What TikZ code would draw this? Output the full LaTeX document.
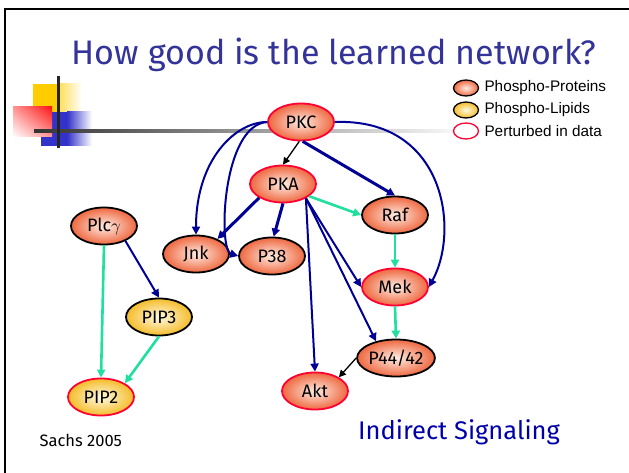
\documentclass[tikz,border=0pt]{standalone}
\usepackage{fontspec}
\setmainfont{Fira Sans}
\newfontfamily\legendfont{Liberation Sans}
\usetikzlibrary{shapes.geometric,arrows.meta,shadings}

\definecolor{titleblue}{RGB}{51,51,153}
\definecolor{netblue}{RGB}{0,0,150}
\definecolor{sigblue}{RGB}{0,0,170}
\definecolor{mint}{RGB}{32,224,160}
\definecolor{pertred}{RGB}{255,0,51}
\definecolor{protorange}{RGB}{238,104,64}
\definecolor{protlight}{RGB}{255,236,226}
\definecolor{lipidyellow}{RGB}{244,188,40}
\definecolor{lipidlight}{RGB}{255,250,228}
\definecolor{decoyellow}{RGB}{255,204,0}
\definecolor{decored}{RGB}{255,20,20}
\definecolor{decoblue}{RGB}{51,51,204}

\tikzset{
  protein/.style={ellipse, minimum width=66pt, minimum height=37pt, inner sep=0pt,
    inner color=protlight, outer color=protorange, draw=black, line width=1.8pt,
    font=\fontsize{18}{20}\selectfont},
  lipid/.style={protein, inner color=lipidlight, outer color=lipidyellow},
  perturbed/.style={draw=pertred},
  legendmark/.style={ellipse, minimum width=25pt, minimum height=16pt, inner sep=0pt, line width=1.3pt},
  legendtext/.style={anchor=west, font=\legendfont\fontsize{15.3}{17}\selectfont},
  arrowblue/.style={draw=netblue, line width=2pt, -{Triangle[length=8pt,width=8pt]}},
  arrowbluethick/.style={arrowblue, line width=3pt},
  arrowgreen/.style={draw=mint, line width=2.6pt, -{Triangle[length=8pt,width=8pt]}},
  arrowblack/.style={draw=black, line width=1.3pt, -{Triangle[length=7pt,width=7pt]}},
}

\begin{document}
\begin{tikzpicture}[x=1pt,y=-1pt]
\useasboundingbox (0,0) rectangle (629,473);
\fill[white] (0,0) rectangle (629,473);

% slide frame
\draw[line width=2.3pt] (5,474) -- (5,9.2) -- (630,9.2);

% corner ornament
\fill[decoyellow] (33,84) rectangle (57,113);
\shade[left color=decoyellow!70, right color=white] (57,84) rectangle (82,113);
\fill[decoblue] (41,112) rectangle (67,146);
\shade[left color=decoblue, right color=white] (67,112) rectangle (92,146);
\shade[upper right=decored, lower left=white, upper left=decored!45, lower right=decored!45]
  (13,107) rectangle (52,137);
\shade[left color=black!80, right color=white] (34,130) rectangle (470,133);
\fill[black!85] (56.5,76) rectangle (59.5,148);

% title
\node[text=titleblue, font=\fontsize{34}{40}\selectfont, anchor=base] (title) at (334,65)
  {How good is the learned network?};

% legend
\node[legendmark, draw=black, inner color=protlight, outer color=protorange] (lgp) at (466,88) {};
\node[legendmark, draw=black, inner color=lipidlight, outer color=lipidyellow] (lgl) at (466,110) {};
\node[legendmark, draw=pertred, fill=white] (lgr) at (466,131) {};
\node[legendtext] (lgptext) at (481,88) {Phospho-Proteins};
\node[legendtext] (lgltext) at (481,110) {Phospho-Lipids};
\node[legendtext] (lgrtext) at (481,131) {Perturbed in data};

% network nodes
\node[protein, perturbed] (PKC) at (301,122) {PKC};
\node[protein, perturbed] (PKA) at (283,184) {PKA};
\node[protein] (Raf) at (395,215) {Raf};
\node[protein] (Jnk) at (196,254) {Jnk};
\node[protein] (P38) at (272,256) {P38};
\node[protein, perturbed] (Mek) at (395,287) {Mek};
\node[protein] (P44) at (396,358) {P44/42};
\node[protein, perturbed] (Akt) at (315,391) {Akt};
\node[protein] (Plc) at (104,226) {Plc$\gamma$};
\node[lipid] (PIP3) at (159,317) {PIP3};
\node[lipid, perturbed] (PIP2) at (101,397) {PIP2};

% edges
\draw[arrowblack] (PKC.-95) -- (PKA.north);
\draw[arrowbluethick] (PKC.-85) -- (Raf.north);
\draw[arrowblue] (PKC.west) .. controls (235,122) and (196,160) .. (Jnk.north);
\draw[arrowblue] (PKC.west) .. controls (222,125) and (218,250) .. (P38.west);
\draw[arrowblue] (PKC.east) .. controls (445,118) and (460,230) .. (Mek.east);
\draw[arrowbluethick] (PKA.210) -- (Jnk.35);
\draw[arrowbluethick] (PKA.south) -- (P38.85);
\draw[arrowgreen] (PKA.-25) -- (Raf.west);
\draw[arrowblue] (PKA.-32) -- (Mek.west);
\draw[arrowblue] (PKA.-32) -- (P44.140);
\draw[arrowblue] (PKA.-32) -- (Akt.north);
\draw[arrowgreen] (Raf.south) -- (Mek.north);
\draw[arrowgreen] (Mek.south) -- (P44.north);
\draw[arrowblack] (P44.west) -- (Akt.30);
\draw[arrowblue] (Plc.-35) -- (PIP3.north);
\draw[arrowgreen] (Plc.south) -- (PIP2.north);
\draw[arrowgreen] (PIP3.south) -- (PIP2.30);

% captions
\node[anchor=west, font=\fontsize{16.5}{18}\selectfont] (cite) at (36,440) {Sachs 2005};
\node[text=sigblue, font=\fontsize{25.5}{29}\selectfont] (caption) at (459,432) {Indirect Signaling};
\end{tikzpicture}
\end{document}
